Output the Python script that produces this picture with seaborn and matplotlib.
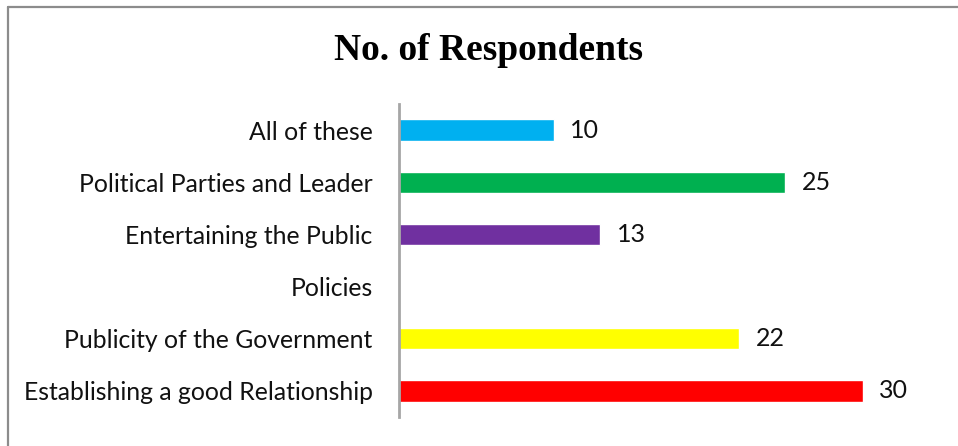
import matplotlib
matplotlib.use("Agg")
import matplotlib.pyplot as plt
from matplotlib.lines import Line2D
import seaborn as sns
import pandas as pd

categories = [
    "All of these",
    "Political Parties and Leader",
    "Entertaining the Public",
    "Policies",
    "Publicity of the Government",
    "Establishing a good Relationship",
]
respondents = [10, 25, 13, 0, 22, 30]
colors = ["#00B0F0", "#00B050", "#7030A0", "#FFFF00", "#FFFF00", "#FF0000"]
title = "No. of Respondents"

df = pd.DataFrame({"category": categories, "count": respondents})

sns.set_theme(style="white")
plt.rcParams["font.family"] = ["Lato", "DejaVu Sans"]

fig = plt.figure(figsize=(9.58, 4.46), dpi=100)
ax = fig.add_axes([399 / 958, 1 - 417 / 446, (940 - 399) / 958, (417 - 104) / 446])

sns.barplot(
    data=df, y="category", x="count", hue="category",
    palette=dict(zip(categories, colors)), order=categories,
    orient="h", width=0.41, legend=False, ax=ax, saturation=1,
)

for cont, val in zip(ax.containers, respondents):
    ax.bar_label(cont, labels=[str(val) if val else ""], padding=12,
                 fontsize=18, color="#111111")

ax.set_xlim(0, 35)
ax.set_ylim(5.5, -0.5)
ax.set_xlabel("")
ax.set_ylabel("")
ax.set_xticks([])
for side in ["top", "right", "bottom"]:
    ax.spines[side].set_visible(False)
ax.spines["left"].set_color("#A6A6A6")
ax.spines["left"].set_linewidth(2)
ax.tick_params(axis="y", length=0, pad=19, labelsize=17.8, labelcolor="#111111")

fig.text(488 / 958, 1 - 51 / 446, title, ha="center", va="center",
         fontsize=27, fontweight="bold", family="Liberation Serif", color="black")

# frame lines along the top and left edges
fig.add_artist(Line2D([8 / 958, 1], [1 - 7 / 446, 1 - 7 / 446],
                      transform=fig.transFigure, color="#8C8C8C", lw=1.6))
fig.add_artist(Line2D([8 / 958, 8 / 958], [0, 1 - 7 / 446],
                      transform=fig.transFigure, color="#8C8C8C", lw=1.6))

fig.savefig("out.png", dpi=100)
